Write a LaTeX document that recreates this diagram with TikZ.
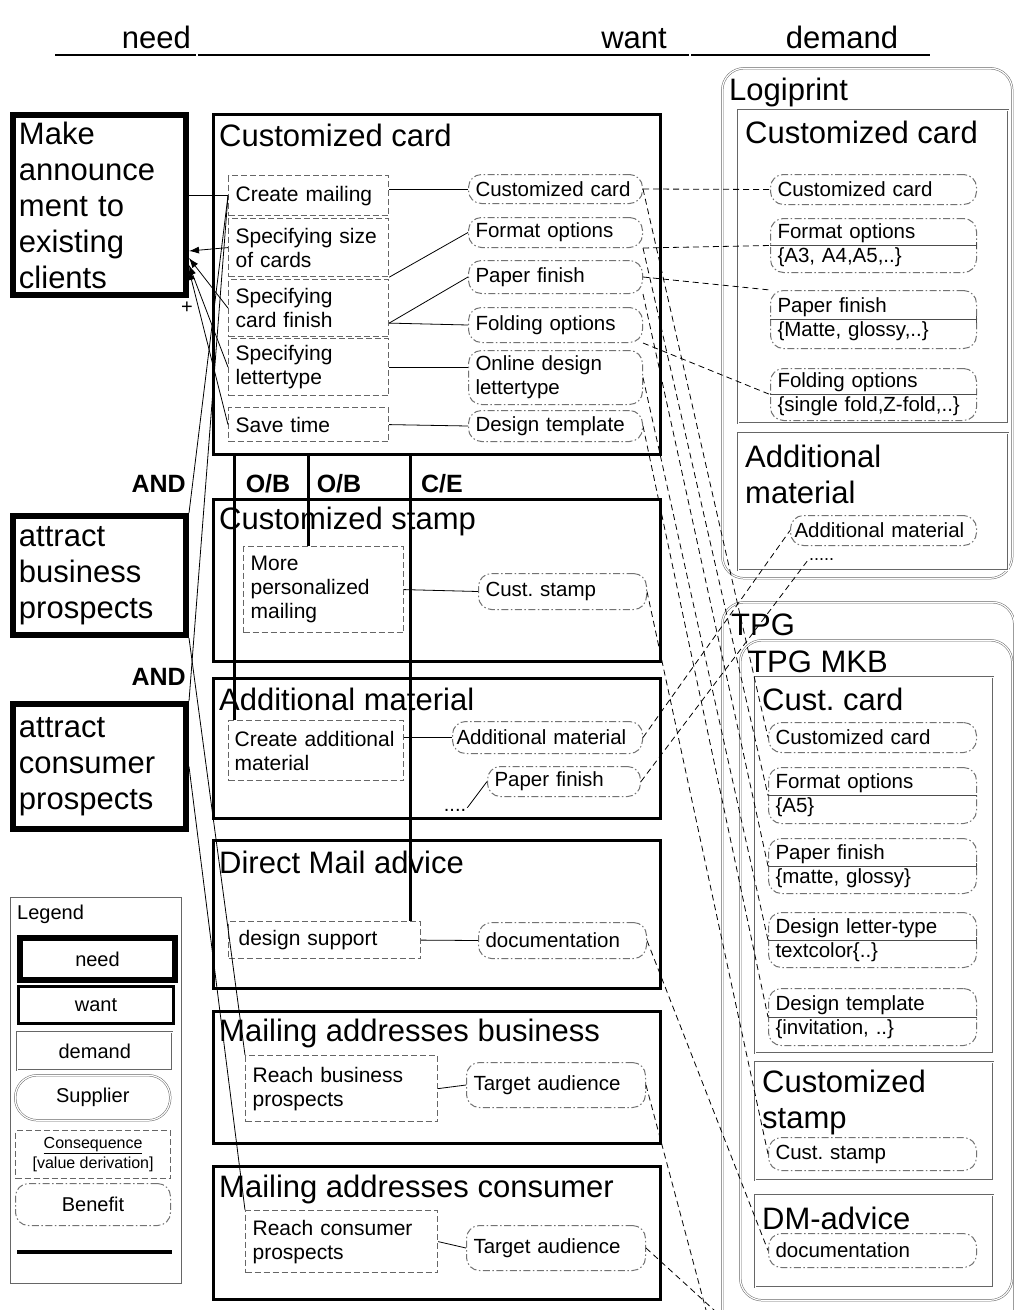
\documentclass[tikz,border=0pt]{standalone}
\usepackage{fontspec}
\setmainfont{Liberation Sans}
\usepackage{tikz}
\usetikzlibrary{shapes,arrows,arrows.meta,positioning,fit}
\frenchspacing

\begin{document}
\begin{tikzpicture}[x=1pt, y=-1pt]
		\tikzstyle{Need} 	= [rectangle, draw, line width=6pt, anchor=north west, inner xsep=6pt, inner ysep=2pt, align=left, font=\fontsize{31}{36}\selectfont]
		\tikzstyle{Want}	= [rectangle, draw, line width=3pt, anchor=north west]
		\tikzstyle{Demand}	= [rectangle, draw=black!60, double, double distance=1.2pt, line width=0.5pt, anchor=north west]
		\tikzstyle{Supplier}	= [Demand, rounded corners=22pt]
		\tikzstyle{Cons}	= [rectangle, draw=black!60, line width=1.2pt, dash pattern=on 6pt off 3pt, anchor=north west, inner xsep=7pt, align=left, font=\fontsize{21}{24}\selectfont]
		\tikzstyle{Ben}		= [rectangle, rounded corners=13pt, draw=black!55, line width=1pt, dash pattern=on 7pt off 2.5pt on 1.5pt off 2.5pt, anchor=north west, inner xsep=7pt, align=left, font=\fontsize{20.5}{24}\selectfont]
		\tikzstyle{Title}	= [anchor=west, inner sep=0pt, align=left, font=\fontsize{31}{36}\selectfont]
		\tikzstyle{Lbl}		= [inner sep=0pt, font=\bfseries\fontsize{25}{28}\selectfont]
		\tikzstyle{Col}		= [draw=black!60, double, double distance=1.2pt, line width=0.5pt]
		\tikzstyle{NM}		= [black, line width=0.8pt]
		\tikzstyle{DL}		= [black, line width=0.8pt, dash pattern=on 6pt off 4pt]
		\tikzstyle{MC}		= [black, line width=3pt]
		\tikzstyle{Sep}		= [black!70, line width=1pt]

		\useasboundingbox (0,0) rectangle (1014,1310);

		\node (hNeed) at (191,48) [Title, anchor=base east] {need};
		\node (hWant) at (667,48) [Title, anchor=base east] {want};
		\node (hDemand) at (842,48) [Title, anchor=base] {demand};
		\coordinate (hl) at (55,55);
		\coordinate (hr) at (930,55);
		\coordinate (col1t) at (197,8);
		\coordinate (col1b) at (197,1310);
		\coordinate (col2t) at (690,8);
		\coordinate (col2b) at (690,1310);
		\draw (hl) -- (hr) [NM, line width=1.5pt];
		\draw (col1t) -- (col1b) [Col];
		\draw (col2t) -- (col2b) [Col];

		\node (n1) at (10,112) [Need, minimum width=173pt, minimum height=180pt, text width=161pt] {Make\\announce\\ment to\\existing\\clients};
		\node (n2) at (10,513) [Need, minimum width=173pt, minimum height=119pt, text width=161pt] {attract\\business\\prospects};
		\node (n3) at (10,701) [Need, minimum width=173pt, minimum height=125pt, text width=161pt] {attract\\consumer\\prospects};
		\node (and1) at (186,484) [Lbl, anchor=east] {AND};
		\node (and2) at (186,677) [Lbl, anchor=east] {AND};
		\node (plus) at (187,308) [font=\fontsize{20}{20}\selectfont, inner sep=0pt] {+};

		\node (w1) at (212,113) [Want, minimum width=447pt, minimum height=340pt] {};
		\node (w2) at (212,498) [Want, minimum width=447pt, minimum height=162pt] {};
		\node (w3) at (212,677) [Want, minimum width=447pt, minimum height=140pt] {};
		\node (w4) at (212,839) [Want, minimum width=447pt, minimum height=148pt] {};
		\node (w5) at (212,1010) [Want, minimum width=447pt, minimum height=132pt] {};
		\node (w6) at (212,1165) [Want, minimum width=447pt, minimum height=133pt] {};
		\node (t1) at (219,135) [Title] {Customized card};
		\node (t2) at (219,521) [Title] {Customized stamp};
		\node (t3) at (219,699) [Title] {Additional material};
		\node (t4) at (219,862) [Title] {Direct Mail advice};
		\node (t5) at (219,1033) [Title] {Mailing addresses business};
		\node (t6) at (219,1189) [Title] {Mailing addresses consumer};

		\node (c1) at (228,175) [Cons, minimum width=160pt, minimum height=40pt, text width=146pt] {Create mailing};
		\node (c2) at (228,218) [Cons, minimum width=160pt, minimum height=58pt, text width=146pt] {Specifying size\\of cards};
		\node (c3) at (228,279) [Cons, minimum width=160pt, minimum height=57pt, text width=146pt] {Specifying\\card finish};
		\node (c4) at (228,338) [Cons, minimum width=160pt, minimum height=57pt, text width=146pt] {Specifying\\lettertype};
		\node (c5) at (228,407) [Cons, minimum width=160pt, minimum height=34pt, text width=146pt] {Save time};
		\node (c6) at (243,546) [Cons, minimum width=160pt, minimum height=86pt, text width=146pt] {More\\personalized\\mailing};
		\node (c7) at (228,720) [Cons, minimum width=175pt, minimum height=60pt, text width=163pt, inner xsep=6pt] {Create additional\\material};
		\node (c8) at (228,921) [Cons, minimum width=192pt, minimum height=37pt, text width=172pt, inner xsep=10pt] {design support};
		\node (c9) at (245,1055) [Cons, minimum width=192pt, minimum height=66pt, text width=178pt] {Reach business\\prospects};
		\node (c10) at (245,1210) [Cons, minimum width=192pt, minimum height=62pt, text width=178pt] {Reach consumer\\prospects};

		\node (b1) at (468,174) [Ben, minimum width=174pt, minimum height=29pt, text width=160pt] {Customized card};
		\node (b2) at (468,217) [Ben, minimum width=174pt, minimum height=30pt, text width=160pt] {Format options};
		\node (b3) at (468,260) [Ben, minimum width=174pt, minimum height=33pt, text width=160pt] {Paper finish};
		\node (b4) at (468,307) [Ben, minimum width=174pt, minimum height=35pt, text width=160pt] {Folding options};
		\node (b5) at (468,350) [Ben, minimum width=174pt, minimum height=54pt, text width=160pt] {Online design\\lettertype};
		\node (b6) at (468,410) [Ben, minimum width=174pt, minimum height=31pt, text width=160pt] {Design template};
		\node (b7) at (478,573) [Ben, minimum width=168pt, minimum height=36pt, text width=154pt] {Cust. stamp};
		\node (b8) at (452,721) [Ben, minimum width=190pt, minimum height=32pt, text width=182pt, inner xsep=4pt] {Additional material};
		\node (b9) at (487,766) [Ben, minimum width=153pt, minimum height=30pt, text width=139pt] {Paper finish};
		\node (b10) at (478,922) [Ben, minimum width=168pt, minimum height=36pt, text width=154pt] {documentation};
		\node (b11) at (466,1062) [Ben, minimum width=179pt, minimum height=45pt, text width=165pt] {Target audience};
		\node (b12) at (466,1225) [Ben, minimum width=179pt, minimum height=45pt, text width=165pt] {Target audience};
		\node (dots1) at (455,810) [font=\fontsize{20}{20}\selectfont, inner sep=1pt] {....};

		\draw [-{Latex[length=10pt,width=7pt]}] (c2.west) to ([yshift=-46pt]n1.east) [NM];
		\draw [-{Latex[length=10pt,width=7pt]}] (c3.west) to ([yshift=-53pt]n1.east) [NM];
		\draw [-{Latex[length=10pt,width=7pt]}] (c4.west) to ([yshift=-60pt]n1.east) [NM];
		\draw [-{Latex[length=10pt,width=7pt]}] (c5.west) to ([yshift=-65pt]n1.east) [NM];
		\draw [-] (c1.west) to (n1.east |- c1.west) [NM];
		\draw [-] (c1.west) to (n2.north east) [NM];
		\draw [-] (c1.west) to (n3.north east) [NM];
		\draw [-] (n2.south east) to (c9.north west) [NM];
		\draw [-] (n3.east) to (c10.north west) [NM];

		\draw [-] (c1.east |- b1.west) to (b1.west) [NM];
		\draw [-] (c2.south east) to (b2.west) [NM];
		\draw [-] ([yshift=-15pt]c3.east) to (b3.west) [NM];
		\draw [-] ([yshift=-15pt]c3.east) to (b4.west) [NM];
		\draw [-] (c4.east) to (c4.east -| b5.west) [NM];
		\draw [-] (c5.east) to (b6.west) [NM];
		\draw [-] (c6.east) to (b7.west) [NM];
		\draw [-] (c7.east |- b8.west) to (b8.west) [NM];
		\draw [-] (dots1.north east) to (b9.west) [NM];
		\draw [-] (c8.east) to (b10.west) [NM];
		\draw [-] (c9.east) to (b11.west) [NM];
		\draw [-] (c10.east) to (b12.west) [NM];

		\coordinate (ob1) at (234,453);
		\coordinate (ob2) at (308,453);
		\coordinate (ce1) at (410,453);
		\draw [-] (ob1) to (ob1 |- c7.north) [MC];
		\draw [-] (ob2) to (ob2 |- c6.north) [MC];
		\draw [-] (ce1) to (ce1 |- c8.north) [MC];
		\node (lob1) at (268,484) [Lbl] {O/B};
		\node (lob2) at (339,484) [Lbl] {O/B};
		\node (lce1) at (442,484) [Lbl] {C/E};

		\node (s1) at (722,68) [Supplier, minimum width=290pt, minimum height=510pt] {};
		\node (ts1) at (729,92) [Title] {Logiprint};
		\node (d1) at (738,110) [Demand, minimum width=270pt, minimum height=313pt] {};
		\node (td1) at (745,132) [Title] {Customized card};
		\node (e1) at (770,174) [Ben, minimum width=206pt, minimum height=30pt, text width=192pt] {Customized card};
		\node (e2) at (770,218) [Ben, minimum width=206pt, minimum height=54pt, text width=192pt] {Format options\\\{A3, A4,A5,..\}};
		\node (e3) at (770,290) [Ben, minimum width=206pt, minimum height=58pt, text width=192pt] {Paper finish\\\{Matte, glossy,..\}};
		\node (e4) at (770,368) [Ben, minimum width=206pt, minimum height=52pt, text width=192pt] {Folding options\\\{single fold,Z-fold,..\}};
		\node (d2) at (738,433) [Demand, minimum width=270pt, minimum height=137pt] {};
		\node (td2) at (745,474) [Title] {Additional\\material};
		\node (e5) at (790,515) [Ben, minimum width=186pt, minimum height=30pt, text width=178pt, inner xsep=4pt] {Additional material};
		\node (dots2) at (808,560) [font=\fontsize{18}{18}\selectfont, inner sep=1pt, anchor=west] {.....};

		\node (s2) at (722,602) [Supplier, minimum width=292pt, minimum height=730pt] {};
		\node (ts2) at (731,625) [Title] {TPG};
		\node (s3) at (740,640) [Supplier, minimum width=272pt, minimum height=660pt] {};
		\node (ts3) at (748,662) [Title] {TPG MKB};
		\node (d3) at (755,677) [Demand, minimum width=238pt, minimum height=376pt] {};
		\node (td3) at (762,699) [Title] {Cust. card};
		\node (f1) at (768,722) [Ben, minimum width=208pt, minimum height=30pt, text width=194pt] {Customized card};
		\node (f2) at (768,767) [Ben, minimum width=208pt, minimum height=56pt, text width=194pt] {Format options\\\{A5\}};
		\node (f3) at (768,838) [Ben, minimum width=208pt, minimum height=55pt, text width=194pt] {Paper finish\\\{matte, glossy\}};
		\node (f4) at (768,912) [Ben, minimum width=208pt, minimum height=55pt, text width=194pt] {Design letter-type\\textcolor\{..\}};
		\node (f5) at (768,988) [Ben, minimum width=208pt, minimum height=57pt, text width=194pt] {Design template\\\{invitation, ..\}};
		\node (d4) at (755,1062) [Demand, minimum width=238pt, minimum height=118pt] {};
		\node (td4) at (762,1102) [Title] {Customized\\stamp};
		\node (f6) at (768,1137) [Ben, minimum width=208pt, minimum height=33pt, text width=194pt] {Cust. stamp};
		\node (d5) at (755,1195) [Demand, minimum width=238pt, minimum height=92pt] {};
		\node (td5) at (762,1218) [Title] {DM-advice};
		\node (f7) at (768,1233) [Ben, minimum width=208pt, minimum height=34pt, text width=194pt] {documentation};

		\draw [-|] (e2.west) to (e2.east) [Sep];
		\draw [-|] (e3.west) to (e3.east) [Sep];
		\draw [-] (e4.west) to (e4.east) [Sep];
		\draw [-] (f2.west) to (f2.east) [Sep];
		\draw [-|] (f3.west) to (f3.east) [Sep];
		\draw [-|] (f4.west) to (f4.east) [Sep];
		\draw [-] (f5.west) to (f5.east) [Sep];

		\draw [-] (b1.east) to (e1.west) [DL];
		\draw [-] (b1.east) to (f1.west) [DL];
		\draw [-] (b2.south east) to (e2.west) [DL];
		\draw [-] (b2.south east) to (f2.west) [DL];
		\draw [-] (b3.east) to (e3.north west) [DL];
		\draw [-] (b3.south east) to (f3.west) [DL];
		\draw [-] (b4.south east) to (e4.west) [DL];
		\draw [-] (b5.east) to (f4.west) [DL];
		\draw [-] (b6.east) to (f5.west) [DL];
		\draw [-] (b7.east) to (f6.west) [DL];
		\draw [-] (b8.east) to (e5.west) [DL];
		\draw [-] (b9.east) to (dots2.west) [DL];
		\draw [-] (b10.east) to (f7.west) [DL];
		\coordinate (out1) at (706,1310);
		\coordinate (out2) at (714,1310);
		\draw [-] (b11.east) to (out1) [DL];
		\draw [-] (b12.east) to (out2) [DL];

		\node (lg) at (10,897) [rectangle, draw=black!60, line width=0.8pt, anchor=north west, minimum width=171pt, minimum height=386pt] {};
		\node (lgt) at (17,914) [anchor=west, inner sep=0pt, font=\fontsize{20}{24}\selectfont] {Legend};
		\node (lneed) at (17,935) [Need, minimum width=155pt, minimum height=42pt, font=\fontsize{20}{24}\selectfont] {need};
		\node (lwant) at (17,985) [Want, minimum width=155pt, minimum height=37pt, font=\fontsize{20}{24}\selectfont] {want};
		\node (ldem) at (17,1032) [Demand, minimum width=155pt, minimum height=38pt, font=\fontsize{20}{24}\selectfont] {demand};
		\node (lsup) at (15,1075) [Supplier, minimum width=155pt, minimum height=45pt, font=\fontsize{20}{24}\selectfont] {Supplier};
		\node (lcon) at (15,1130) [Cons, minimum width=155pt, minimum height=48pt, align=center, font=\fontsize{16}{20}\selectfont] {\underline{Consequence}\\{}[value derivation]};
		\node (lben) at (15,1183) [Ben, minimum width=155pt, minimum height=42pt, align=center, font=\fontsize{20}{24}\selectfont] {Benefit};
		\coordinate (la) at (17,1252);
		\coordinate (lb) at (172,1252);
		\draw [-] (la) to (lb) [MC, line width=4pt];
	\end{tikzpicture}
\end{document}
